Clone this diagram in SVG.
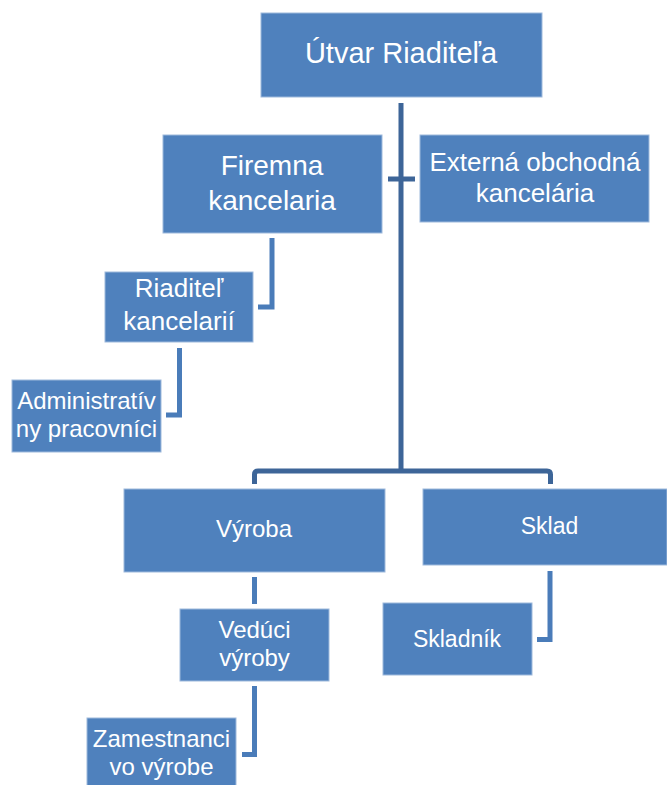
<svg xmlns="http://www.w3.org/2000/svg" width="667" height="785" viewBox="0 0 667 785">
<style>
.box{fill:#4F81BD;stroke:#9EB9DC;stroke-width:1}
.t{font-family:"Liberation Sans",Arial,sans-serif;fill:#ffffff;text-anchor:middle}
.c{fill:none;stroke:#4A7CB9;stroke-width:5}
.cd{fill:none;stroke:#3D6598;stroke-width:5}
</style>
<rect width="667" height="785" fill="#ffffff"/>
<g id="connectors">
<line class="cd" x1="401" y1="103" x2="401" y2="471"/>
<line class="cd" x1="388" y1="179" x2="415" y2="179"/>
<path class="cd" d="M254.5,484 V474.5 Q254.5,471 258,471 H547 Q550.5,471 550.5,474.5 V484"/>
<path class="c" d="M272,238 V307 H258"/>
<path class="c" d="M179.5,348 V415 H166"/>
<line class="c" x1="254.5" y1="577" x2="254.5" y2="604"/>
<path class="c" d="M550,571 V639.5 H537"/>
<path class="c" d="M254.5,686 V754.5 H242"/>
</g>
<g id="utvar">
<rect class="box" x="261" y="13" width="281" height="84"/>
<text class="t" x="401" y="63" font-size="29">Útvar Riaditeľa</text>
</g>
<g id="firemna">
<rect class="box" x="163" y="135" width="219" height="98"/>
<text class="t" x="272" y="175" font-size="28">Firemna</text>
<text class="t" x="272" y="210" font-size="28">kancelaria</text>
</g>
<g id="externa">
<rect class="box" x="420" y="135" width="229" height="87"/>
<text class="t" x="535" y="171" font-size="26">Externá obchodná</text>
<text class="t" x="535" y="202" font-size="26">kancelária</text>
</g>
<g id="riaditel">
<rect class="box" x="105" y="272" width="148" height="70"/>
<text class="t" x="179" y="297" font-size="26">Riaditeľ</text>
<text class="t" x="179" y="330" font-size="26">kancelarií</text>
</g>
<g id="administrativni">
<rect class="box" x="12" y="380" width="149" height="72"/>
<text class="t" x="86.5" y="409" font-size="24">Administratív</text>
<text class="t" x="86.5" y="437" font-size="24">ny pracovníci</text>
</g>
<g id="vyroba">
<rect class="box" x="124" y="489" width="261" height="83"/>
<text class="t" x="254" y="537" font-size="24">Výroba</text>
</g>
<g id="sklad">
<rect class="box" x="423" y="489" width="244" height="76"/>
<text class="t" x="549.5" y="534" font-size="23">Sklad</text>
</g>
<g id="veduci">
<rect class="box" x="180" y="609" width="149" height="72"/>
<text class="t" x="254.5" y="638" font-size="24">Vedúci</text>
<text class="t" x="254.5" y="666" font-size="24">výroby</text>
</g>
<g id="skladnik">
<rect class="box" x="383" y="603" width="149" height="72"/>
<text class="t" x="457" y="647" font-size="23">Skladník</text>
</g>
<g id="zamestnanci">
<rect class="box" x="87" y="718" width="149" height="72"/>
<text class="t" x="161.5" y="747" font-size="24">Zamestnanci</text>
<text class="t" x="161.5" y="775" font-size="24">vo výrobe</text>
</g>
</svg>
